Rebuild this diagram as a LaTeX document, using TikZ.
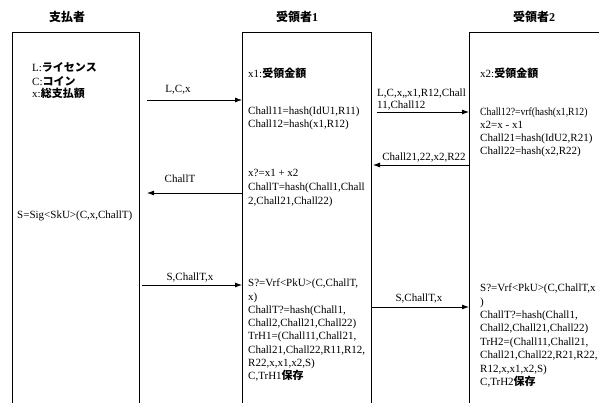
\documentclass[tikz,border=0pt]{standalone}
\usepackage{fontspec}
\usepackage{graphicx}
\setmainfont{Liberation Serif}
\newfontfamily\jpfont{Noto Sans CJK JP}
\newcommand{\jp}[1]{{\jpfont\bfseries #1}}
\usetikzlibrary{arrows.meta}
\begin{document}
\begin{tikzpicture}[x=1pt,y=-1pt,
  box/.style={draw,line width=1pt,anchor=north west,inner sep=0pt,minimum height=420pt},
  arr/.style={line width=0.8pt,-{Latex[length=7pt,width=5pt]}},
  head/.style={font=\fontsize{12}{14}\selectfont\bfseries,inner sep=0pt},
  lab/.style={font=\fontsize{11}{12}\selectfont,inner sep=0pt},
  txt/.style={anchor=north west,align=left,inner sep=0pt,font=\fontsize{11}{#1}\selectfont},
]
\useasboundingbox (0,0) rectangle (599,402);
\fill[white] (0,0) rectangle (599,402);
\clip (0,0) rectangle (599,402);

% lifeline boxes
\node[box,minimum width=127pt] (payer) at (12,32) {};
\node[box,minimum width=129pt] (rec1) at (242,32) {};
\node[box,minimum width=180pt] (rec2) at (469,32) {};

% headers
\node[head] (h0) at (67,17) {\jpfont\bfseries 支払者};
\node[head] (h1) at (297,17) {{\jpfont\bfseries 受領者}1};
\node[head] (h2) at (534,17) {{\jpfont\bfseries 受領者}2};

% payer texts
\node[txt=12] (t0a) at (32,62.1) {\strut L:\jp{ライセンス}\\C:\jp{コイン}\\x:\jp{総支払額}};
\node[txt=13] (t0b) at (17,209.4) {\strut S=Sig<SkU>(C,x,ChallT)};

% receiver 1 texts
\node[txt=13] (t1a) at (248,67.4) {\strut x1:\jp{受領金額}};
\node[txt=12.5] (t1b) at (248,105.8) {\strut Chall11=hash(IdU1,R11)\\Chall12=hash(x1,R12)};
\node[txt=14] (t1c) at (248,166.7) {\strut x?=x1 + x2\\ChallT=hash(Chall1,Chall\\2,Chall21,Chall22)};
\node[txt=13.3] (t1d) at (248,277.2) {\strut S?=Vrf<PkU>(C,ChallT,\\x)\\ChallT?=hash(Chall1,\\Chall2,Chall21,Chall22)\\TrH1=(Chall11,Chall21,\\Chall21,Chall22,R11,R12,\\R22,x,x1,x2,S)\\C,TrH1\jp{保存}};

% receiver 2 texts
\node[txt=13] (t2a) at (480,67.4) {\strut x2:\jp{受領金額}};
\node[txt=13] (t2b) at (480,106.4) {\strut \scalebox{0.88}[1]{Chall12?=vrf(hash(x1,R12)}\\x2=x - x1\\Chall21=hash(IdU2,R21)\\Chall22=hash(x2,R22)};
\node[txt=13.4] (t2c) at (480,282.1) {\strut S?=Vrf<PkU>(C,ChallT,x\\)\\ChallT?=hash(Chall1,\\Chall2,Chall21,Chall22)\\TrH2=(Chall11,Chall21,\\Chall21,Chall22,R21,R22,\\R12,x,x1,x2,S)\\C,TrH2\jp{保存}};

% message endpoints
\coordinate (m1) at (147,100);
\coordinate (m2) at (377,112);
\coordinate (m3) at (373,165);
\coordinate (m4) at (147,193);
\coordinate (m5) at (142,285);
\coordinate (m6) at (372,307);

% messages
\draw[arr] (m1) -- (rec1.west |- m1);
\node[lab] (l1) at (178,90) {L,C,x};
\draw[arr] (m2) -- (rec2.west |- m2);
\node[txt=12] (l2) at (377,88.1) {\strut L,C,x,,x1,R12,Chall\\11,Chall12};
\draw[arr] (rec2.west |- m3) -- (m3);
\node[lab] (l3) at (424,158) {Chall21,22,x2,R22};
\draw[arr] (rec1.west |- m4) -- (m4);
\node[lab] (l4) at (180,179) {ChallT};
\draw[arr] (m5) -- (rec1.west |- m5);
\node[lab] (l5) at (190,278) {S,ChallT,x};
\draw[arr] (m6) -- (rec2.west |- m6);
\node[lab] (l6) at (419,299) {S,ChallT,x};
\end{tikzpicture}
\end{document}
